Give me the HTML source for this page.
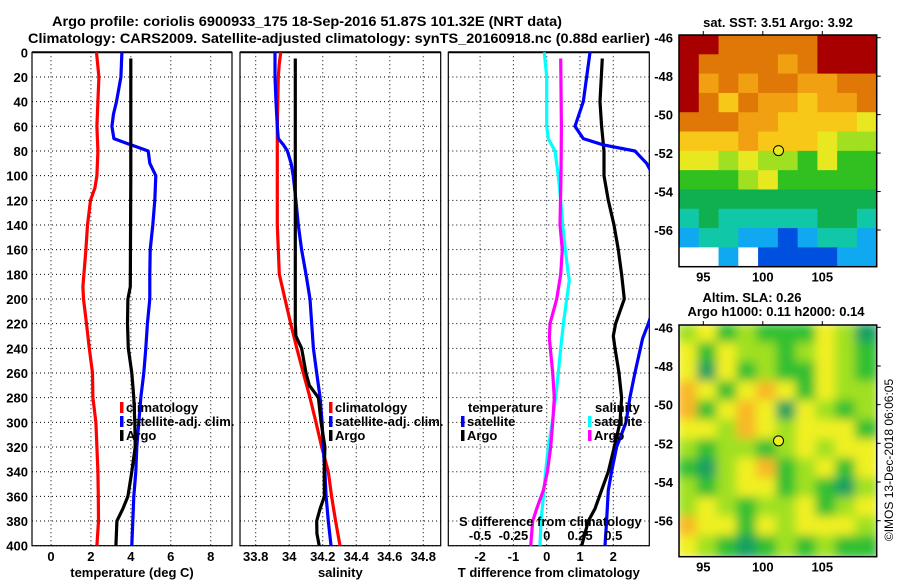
<!DOCTYPE html>
<html><head><meta charset="utf-8">
<style>
html,body{margin:0;padding:0;background:#fff;}
svg{display:block;}
text{font-family:"Liberation Sans",sans-serif;font-weight:bold;fill:#000;}
</style></head>
<body>
<svg id="fig" width="900" height="580" viewBox="0 0 900 580" xmlns="http://www.w3.org/2000/svg">
<defs>
<clipPath id="c1"><rect x="32" y="52" width="200" height="494"/></clipPath>
<clipPath id="c2"><rect x="240" y="52" width="201" height="494"/></clipPath>
<clipPath id="c3"><rect x="448" y="52" width="201" height="494"/></clipPath>
<clipPath id="cm1"><rect x="679" y="35" width="198" height="232"/></clipPath>
<clipPath id="cm2"><rect x="679" y="325" width="198" height="232"/></clipPath>
<filter id="blur" x="-5%" y="-5%" width="110%" height="110%"><feGaussianBlur stdDeviation="5"/></filter>
</defs>
<text x="52" y="26" font-size="14" textLength="510" lengthAdjust="spacingAndGlyphs">Argo profile: coriolis 6900933_175 18-Sep-2016 51.87S 101.32E (NRT data)</text>
<text x="28" y="43" font-size="14" textLength="622" lengthAdjust="spacingAndGlyphs">Climatology: CARS2009. Satellite-adjusted climatology: synTS_20160918.nc (0.88d earlier)</text>
<g id="g1"></g>
<g id="g2"></g>
<g id="g3"></g>
<g id="m1"></g>
<g id="m2"></g>
<text x="778" y="27" font-size="13" text-anchor="middle">sat. SST: 3.51 Argo: 3.92</text>
<text x="752" y="302" font-size="13" text-anchor="middle">Altim. SLA: 0.26</text>
<text x="776" y="316" font-size="13" text-anchor="middle">Argo h1000: 0.11 h2000: 0.14</text>
<text transform="translate(893,460) rotate(-90)" font-size="12" style="font-weight:normal" text-anchor="middle">©IMOS 13-Dec-2018 06:06:05</text>
</svg>
<script>
// ---- data ----
const depthTicks = [0,20,40,60,80,100,120,140,160,180,200,220,240,260,280,300,320,340,360,380,400];
const tempTicks = [0,2,4,6,8];
const salTicks = [33.8,34,34.2,34.4,34.6,34.8];
const tdiffTicks = [-2,-1,0,1,2];
const sdiffTicks = [-0.5,-0.25,0,0.25,0.5];
const sdiffTickLabels = ["-0.5","-0.25","0","0.25","0.5"];

const climTDepth = [0,20,40,60,80,100,110,120,140,160,180,190,200,220,240,260,280,300,320,340,360,380,400];
const climTemp   = [2.28,2.4,2.35,2.3,2.35,2.3,2.2,1.98,1.83,1.75,1.65,1.6,1.63,1.78,1.92,2.08,2.1,2.25,2.3,2.35,2.37,2.38,2.3];
const satTDepth = [0,20,40,50,60,70,75,80,90,100,120,140,160,180,200,220,240,260,280,300,320,340,360,380,400];
const satTemp   = [3.55,3.5,3.28,3.13,3.05,3.15,4.0,4.87,4.95,5.25,5.2,5.1,4.97,4.95,4.95,4.83,4.75,4.65,4.5,4.4,4.3,4.25,4.15,4.1,4.05];
const argoTDepth = [5,100,190,200,220,240,260,280,300,320,340,360,370,380,400];
const argoTemp   = [4.0,4.0,3.97,3.85,3.83,3.87,4.05,4.15,4.2,4.22,4.05,3.85,3.6,3.3,3.25];

const climSDepth = [0,10,20,60,140,180,200,220,240,260,280,300,320,340,360,380,400];
const climSal    = [33.949,33.94,33.935,33.929,33.929,33.941,33.975,34.009,34.045,34.084,34.124,34.16,34.194,34.233,34.253,34.277,34.303];
const satSDepth = [0,20,40,60,70,75,80,90,100,120,140,160,180,200,220,240,260,280,300,320,340,360,380,400];
const satSal    = [33.915,33.915,33.921,33.929,33.935,33.965,33.989,34.011,34.024,34.04,34.054,34.074,34.1,34.124,34.134,34.144,34.164,34.184,34.196,34.203,34.213,34.22,34.233,34.249];
const argoSDepth = [5,220,230,240,260,270,280,300,320,340,360,370,380,390,400];
const argoSal    = [34.036,34.036,34.04,34.074,34.1,34.12,34.174,34.19,34.213,34.209,34.21,34.184,34.164,34.165,34.179];

const satTdDepth = [0,40,60,70,75,80,90,100,120,160,200,220,232,260,280,300,320,340,355,380,400];
const satTdiff   = [1.3,1.1,0.85,1.1,1.69,2.65,3.0,3.2,3.4,3.4,3.3,3.05,2.88,2.65,2.5,2.38,2.1,1.95,1.85,1.8,1.75];
const argoTdDepth = [5,40,60,80,100,120,140,160,180,200,220,230,240,260,280,300,320,340,355,370,380,400];
const argoTdiff   = [1.67,1.6,1.65,1.72,1.72,1.85,2.02,2.15,2.25,2.33,2.07,2.0,2.05,2.17,2.25,2.2,2.03,1.85,1.65,1.45,1.25,1.05];
const satSdDepth = [0,20,60,70,80,100,120,140,160,180,185,200,220,240,260,280,300,320,340,360,380,400];
const satSdiff   = [-0.018,0,0,0.012,0.062,0.087,0.105,0.12,0.14,0.162,0.17,0.15,0.125,0.105,0.087,0.067,0.042,0.012,-0.008,-0.025,-0.043,-0.05];
const argoSdDepth = [5,60,100,140,160,180,200,220,232,260,280,300,320,340,355,370,380,400];
const argoSdiff   = [0.105,0.11,0.107,0.1,0.117,0.105,0.075,0.025,0.02,0.045,0.057,0.045,0.03,0.005,-0.025,-0.075,-0.105,-0.12];

const latTicks = [-46,-48,-50,-52,-54,-56];
const lonTicks = [95,100,105];
const sstGrid = [
 [6,6,5,5,5,5,5,6,6,6],
 [6,5,5,5,5,4.5,5,6,6,6],
 [6,4.5,5,4.5,5,5,4.5,4.5,5,5],
 [6,5,4,5,4.5,4.5,4,4.5,4.5,5],
 [5,5,5,4.5,4.5,4,4,4,4,3.5],
 [4,4,4,4.5,4,4,4,3.5,3,3],
 [3.5,3.5,3,3.5,3,3,2.5,3.5,2.5,2.5],
 [2.5,2.5,2.5,3,3.5,2.5,2.5,2.5,2.5,2.5],
 [2,2,2,2,2,2,2,2,2,2],
 [1.5,2,1.5,1.8,1.5,1.5,1.5,2,2,1.5],
 [1,1.5,1.5,1.2,1,0.8,1,1.5,1.5,1.2],
 [-1,-1,1,-1,0.8,0.5,0.5,0.8,1,1]
];
const slaGrid = [
 [2,3,1,2,1,1,1,3,2,0],
 [3,1,3,2,2,1,2,3,2,1],
 [3,0,3,1,2,1,1,3,2,1],
 [4,3,1,3,4,3,1,3,2,2],
 [4,1,3,4,3,0,3,2,1,2],
 [3,3,2,4,3,2,3,3,3,1],
 [2,1,2,2,1,2,3,2,3,3],
 [1,0,2,3,4,1,2,3,1,3],
 [2,1,2,3,3,1,2,1,0,2],
 [2,3,2,1,2,2,3,1,2,3],
 [4,3,3,1,3,2,3,3,3,2],
 [3,2,1,0,1,2,1,2,1,1]
];
const argoLon = 101.32, argoLat = -51.87;

// ---- helpers ----
const NS = "http://www.w3.org/2000/svg";
function mk(parent, tag, attrs, txt){
  const e = document.createElementNS(NS, tag);
  for (const k in attrs) e.setAttribute(k, attrs[k]);
  if (txt !== undefined) e.textContent = txt;
  parent.appendChild(e); return e;
}
const Y0 = 52.3, YS = (545.7-52.3)/400;
const yD = d => Y0 + d*YS;
function lin(v0,p0,v1,p1){ return v => p0 + (v-v0)*(p1-p0)/(v1-v0); }

function panel(g, x0, x1, xs, xticks, xlabels, title, clip){
  for (const d of depthTicks){
    const l = mk(g,'line',{x1:x0,x2:x1,y1:yD(d),y2:yD(d),stroke:'#000','stroke-width':1,'stroke-dasharray':'1,3'});
    
    
  }
  xticks.forEach((t,i)=>{
    const l = mk(g,'line',{x1:xs(t),x2:xs(t),y1:Y0,y2:545.7,stroke:'#000','stroke-width':1,'stroke-dasharray':'1,3'});
    
    
    const tx = mk(g,'text',{x:xs(t),y:561,'font-size':13,'text-anchor':'middle'},xlabels[i]);
    
    
  });
  const r = mk(g,'rect',{x:x0,y:Y0,width:x1-x0,height:545.7-Y0,fill:'none',stroke:'#000','stroke-width':1.2});
  
  
  mk(g,'line',{x1:x0,x2:x1,y1:Y0,y2:Y0,stroke:'#000','stroke-width':2});
  const at = mk(g,'text',{x:(x0+x1)/2,y:577,'font-size':13,'text-anchor':'middle'},title);
  
  
  const s = mk(g,'g',{'clip-path':'url(#'+clip+')'});
  return s;
}
function series(g, depths, vals, xs, color, name){
  const pts = depths.map((d,i)=> xs(vals[i]).toFixed(1)+','+yD(d).toFixed(1)).join(' ');
  const p = mk(g,'polyline',{points:pts,fill:'none',stroke:color,'stroke-width':3.2,'stroke-linejoin':'round'});
  
  
}
function legend(g, x, y, color, label, name){
  const r = mk(g,'rect',{x:x,y:y-10,width:3.5,height:11,fill:color});
  
  
  const t = mk(g,'text',{x:x+6,y:y,'font-size':13},label);
  
  
}

const svg = document.getElementById('fig');
for (const d of depthTicks){
  const t = mk(svg,'text',{x:28,y:yD(d)+5,'font-size':13,'text-anchor':'end'},String(d));
  
  
}

// Panel 1
const g1 = document.getElementById('g1');
const xT = lin(0,51,8,210.7);
const s1 = panel(g1,32,232,xT,tempTicks,tempTicks.map(String),'temperature (deg C)','c1');
series(s1,climTDepth,climTemp,xT,'#ff0000','climatology-temperature-line');
series(s1,satTDepth,satTemp,xT,'#0000ff','satellite-temperature-line');
series(s1,argoTDepth,argoTemp,xT,'#000000','argo-temperature-line');
legend(g1,120,412,'#ff0000','climatology','legend-climatology');
legend(g1,120,426,'#0000ff','satellite-adj. clim.','legend-satellite');
legend(g1,120,440,'#000000','Argo','legend-argo');

// Panel 2
const g2 = document.getElementById('g2');
const xS = lin(33.8,255.7,34.8,423.3);
const s2 = panel(g2,240,440.7,xS,salTicks,salTicks.map(String),'salinity','c2');
series(s2,climSDepth,climSal,xS,'#ff0000','climatology-salinity-line');
series(s2,satSDepth,satSal,xS,'#0000ff','satellite-salinity-line');
series(s2,argoSDepth,argoSal,xS,'#000000','argo-salinity-line');
legend(g2,329,412,'#ff0000','climatology','legend-climatology');
legend(g2,329,426,'#0000ff','satellite-adj. clim.','legend-satellite');
legend(g2,329,440,'#000000','Argo','legend-argo');

// Panel 3
const g3 = document.getElementById('g3');
const xTd = lin(0,546.7,2,613.3);
const xSd = lin(0,546.7,0.5,613.3);
const s3 = panel(g3,448.3,649.3,xTd,tdiffTicks,tdiffTicks.map(String),'T difference from climatology','c3');
series(s3,satSdDepth,satSdiff,xSd,'#00ffff','satellite-salinity-diff-line');
series(s3,argoSdDepth,argoSdiff,xSd,'#ff00ff','argo-salinity-diff-line');
series(s3,argoTdDepth,argoTdiff,xTd,'#000000','argo-temperature-diff-line');
series(s3,satTdDepth,satTdiff,xTd,'#0000ff','satellite-temperature-diff-line');
let t3 = mk(g3,'text',{x:468,y:412,'font-size':13},'temperature');


legend(g3,461,426,'#0000ff','satellite','legend-temp-satellite');
legend(g3,461,440,'#000000','Argo','legend-temp-argo');
t3 = mk(g3,'text',{x:595,y:412,'font-size':13},'salinity');


legend(g3,588,426,'#00ffff','satellite','legend-sal-satellite');
legend(g3,588,440,'#ff00ff','Argo','legend-sal-argo');
t3 = mk(g3,'text',{x:459,y:526,'font-size':13},'S difference from climatology');


sdiffTicks.forEach((v,i)=>{
  const t = mk(g3,'text',{x:xSd(v),y:540,'font-size':13,'text-anchor':'middle'},sdiffTickLabels[i]);
  
  
});

// Maps
const MX0=679, MX1=876.7;
const xLon = lin(95,703.3,105,822.3);
function sstColor(v){
  if (v < 0) return '#ffffff';
  const stops = [[0,'#0050e0'],[1,'#10a8f0'],[1.5,'#10c8a8'],[2,'#10b050'],[2.5,'#30c020'],[3,'#a0e020'],[3.5,'#e8e820'],[4,'#f8c818'],[4.5,'#f0a010'],[5,'#e07808'],[6,'#a80000']];
  let best = stops[0][1];
  for (const s of stops) if (v >= s[0]) best = s[1];
  return best;
}
const slaColors = ['#18a060','#30c030','#a0e020','#f0f020','#f8b828'];
function slaColor(v){ return slaColors[Math.max(0,Math.min(4,Math.round(v)))]; }
function map(gid, top, bottom, yLat0, yLat1, grid, colorFn, clip, blur, name, markerVal){
  const g = document.getElementById(gid);
  const yLat = lin(-46,yLat0,-56,yLat1);
  const inner = mk(g,'g',{'clip-path':'url(#'+clip+')'});
  const cont = blur ? mk(inner,'g',{filter:'url(#blur)'}) : inner;
  const rows = grid.length, cols = grid[0].length;
  const cw = (MX1-MX0)/cols, ch = (bottom-top)/rows;
  grid.forEach((row,r)=>row.forEach((v,c)=>{
    const e = mk(cont,'rect',{x:MX0+c*cw-(blur?2:0),y:top+r*ch-(blur?2:0),width:cw+(blur?4:0.5),height:ch+(blur?4:0.5),fill:colorFn(v)});
    
    
  }));
  const f = mk(g,'rect',{x:MX0,y:top,width:MX1-MX0,height:bottom-top,fill:'none',stroke:'#000','stroke-width':1.5});
  
  
  for (const la of latTicks){
    const t = mk(g,'text',{x:673,y:yLat(la)+5,'font-size':13,'text-anchor':'end'},String(la));
    
    
    mk(g,'line',{x1:MX1,x2:MX1+4,y1:yLat(la),y2:yLat(la),stroke:'#000'});
  }
  for (const lo of lonTicks){
    const t = mk(g,'text',{x:xLon(lo),y:bottom+15,'font-size':13,'text-anchor':'middle'},String(lo));
    
    
    mk(g,'line',{x1:xLon(lo),x2:xLon(lo),y1:top,y2:top-4,stroke:'#000'});
  }
  const m = mk(g,'circle',{cx:xLon(argoLon),cy:yLat(argoLat),r:5,fill:colorFn(markerVal),stroke:'#000','stroke-width':1});
  
  
}
map('m1',35,266.7,37.7,230,sstGrid,sstColor,'cm1',false,'sst',3.5);
map('m2',325,556.7,327.3,520.7,slaGrid,slaColor,'cm2',true,'sla',2.6);
</script>
</body></html>
